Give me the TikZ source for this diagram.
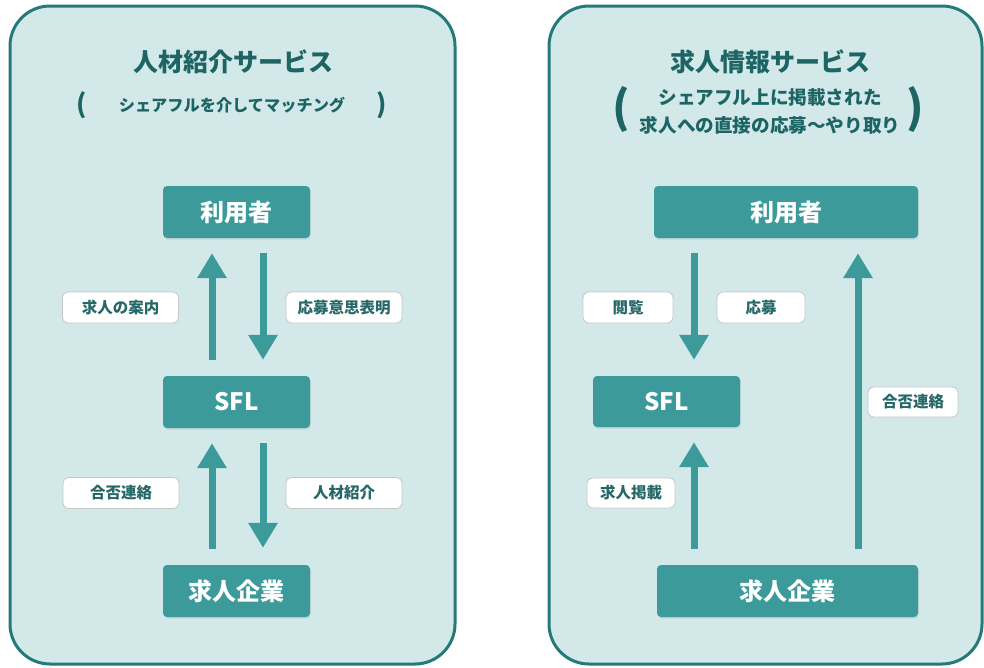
\documentclass[tikz,border=0pt]{standalone}
\usepackage{fontspec}
\setmainfont{Noto Sans CJK JP}
\usetikzlibrary{arrows.meta,shadows}
\definecolor{panelfill}{HTML}{D3E8E9}
\definecolor{panelborder}{HTML}{237A78}
\definecolor{nodefill}{HTML}{3C9B9A}
\definecolor{titlecol}{HTML}{1D6564}
\definecolor{labelcol}{HTML}{266767}
\tikzset{
  panel/.style={draw=panelborder, fill=panelfill, line width=3pt, rounded corners=40pt},
  mainbox/.style={fill=nodefill, rounded corners=4pt, inner sep=0pt, minimum height=52pt,
    text=white, font=\fontsize{24}{26}\selectfont\bfseries,
    drop shadow={opacity=0.18, shadow xshift=0.8pt, shadow yshift=-1.5pt}},
  lbl/.style={draw=black!22, line width=0.8pt, fill=white, rounded corners=6pt, inner sep=0pt,
    minimum height=31pt, text=labelcol, font=\fontsize{15.5}{17}\selectfont\bfseries},
  bigarrow/.style={draw=nodefill, line width=7pt, -{Triangle[width=28pt,length=25pt]}},
  ttl/.style={text=titlecol, font=\fontsize{25}{28}\selectfont\bfseries},
  sub/.style={text=titlecol, font=\fontsize{16.2}{26}\selectfont\bfseries, align=center},
  paren/.style={text=titlecol, font=\fontsize{26}{28}\selectfont\bfseries},
  bigparen/.style={text=titlecol, font=\fontsize{44}{48}\selectfont\bfseries},
}
\begin{document}
\begin{tikzpicture}[x=1pt,y=-1pt]
\useasboundingbox (0,0) rectangle (984,667);
% panels
\draw[panel] (10,6) rectangle (455,664);
\draw[panel] (549,6) rectangle (982,664);

% ---------- left panel ----------
\node[ttl] (ltitle) at (233,62) {人材紹介サービス};
\node[paren] (lpo) at (82,105) {(};
\node[sub] (lsub) at (232,105) {シェアフルを介してマッチング};
\node[paren] (lpc) at (382,105) {)};

\node[mainbox, minimum width=147pt] (userL) at (236.5,212) {利用者};
\node[mainbox, minimum width=147pt] (sflL) at (236.5,402) {SFL};
\node[mainbox, minimum width=147pt] (entL) at (236.5,591) {求人企業};

\node[lbl, minimum width=116pt] (l1) at (120.5,307.5) {求人の案内};
\node[lbl, minimum width=116pt] (l2) at (344,307.5) {応募意思表明};
\node[lbl, minimum width=116pt] (l3) at (121,493) {合否連絡};
\node[lbl, minimum width=116pt] (l4) at (344,493) {人材紹介};

\draw[bigarrow, shorten <=16pt, shorten >=15pt]
  ([xshift=-24.5pt]sflL.north) -- ([xshift=-24.5pt]userL.south);
\draw[bigarrow, shorten <=15pt, shorten >=16pt]
  ([xshift=26.5pt]userL.south) -- ([xshift=26.5pt]sflL.north);
\draw[bigarrow, shorten <=16pt, shorten >=15pt]
  ([xshift=-24.5pt]entL.north) -- ([xshift=-24.5pt]sflL.south);
\draw[bigarrow, shorten <=15pt, shorten >=17pt]
  ([xshift=26.5pt]sflL.south) -- ([xshift=26.5pt]entL.north);

% ---------- right panel ----------
\node[ttl] (rtitle) at (770,62) {求人情報サービス};
\node[bigparen] (rpo) at (621,110) {(};
\node[sub, font=\fontsize{18.6}{28}\selectfont\bfseries] (rsub) at (770,111)
  {シェアフル上に掲載された\\求人への直接の応募〜やり取り};
\node[bigparen] (rpc) at (915,110) {)};

\node[mainbox, minimum width=264pt] (userR) at (786,212) {利用者};
\node[mainbox, minimum width=147pt, minimum height=51pt] (sflR) at (666.5,401.5) {SFL};
\node[mainbox, minimum width=261pt] (entR) at (787.5,591) {求人企業};

\node[lbl, minimum width=90pt] (r1) at (628,307.5) {閲覧};
\node[lbl, minimum width=88pt] (r2) at (761,307.5) {応募};
\node[lbl, minimum width=90pt, minimum height=30pt] (r3) at (913,402) {合否連絡};
\node[lbl, minimum width=88pt, minimum height=30pt] (r4) at (631,493) {求人掲載};

\draw[bigarrow, shorten <=15pt, shorten >=16pt]
  ([xshift=27.5pt]sflR.north |- userR.south) -- ([xshift=27.5pt]sflR.north);
\draw[bigarrow, shorten <=16pt, shorten >=15pt]
  ([xshift=27.5pt]sflR.south |- entR.north) -- ([xshift=27.5pt]sflR.south);
\draw[bigarrow, shorten <=16pt, shorten >=15pt]
  ([xshift=70.5pt]entR.north) -- ([xshift=70.5pt]entR.north |- userR.south);
\end{tikzpicture}
\end{document}
